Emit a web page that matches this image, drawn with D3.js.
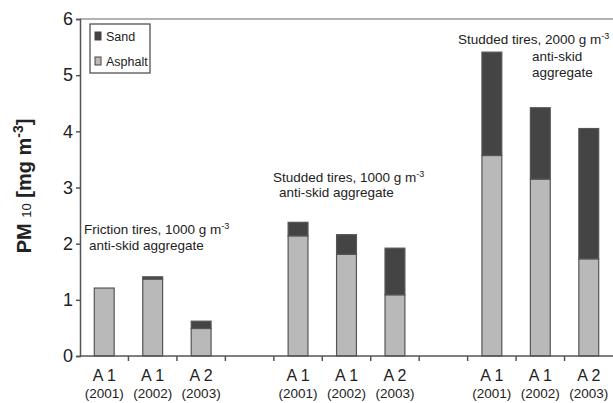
<!DOCTYPE html>
<html>
<head>
  <meta charset="utf-8">
  <title>PM10 sand / asphalt</title>
  <style>
    body { margin: 0; background: #fff; }
    text { font-family: "Liberation Sans", Arial, sans-serif; fill: #222; }
  </style>
</head>
<body>
  <script src="https://d3js.org/d3.v7.min.js"></script>
  <svg width="613" height="403"></svg>
  <script>
    // slots along the x axis, g1/g2 are the empty gaps between the groups
    var slots = ["s1", "s2", "s3", "g1", "s4", "s5", "s6", "g2", "s7", "s8", "s9"];
    var barSlots = ["s1", "s2", "s3", "s4", "s5", "s6", "s7", "s8", "s9"];
    var sites = ["A 1", "A 1", "A 2", "A 1", "A 1", "A 2", "A 1", "A 1", "A 2"];
    var years = ["(2001)", "(2002)", "(2003)", "(2001)", "(2002)", "(2003)", "(2001)", "(2002)", "(2003)"];
    var asphalt = [1.21, 1.37, 0.49, 2.14, 1.81, 1.09, 3.57, 3.15, 1.73];
    var sand = [0.0, 0.04, 0.13, 0.24, 0.35, 0.83, 1.84, 1.27, 2.32];
    var yTicks = [0, 1, 2, 3, 4, 5, 6];

    var svg = d3.select("svg");

    var x = d3.scaleBand()
        .domain(slots)
        .range([80, 613]);

    var y = d3.scaleLinear()
        .domain([0, 6])
        .range([356, 19]);

    var barW = x.bandwidth() * 0.41;

    // frame: top line
    svg.append("line")
        .attr("x1", 80).attr("x2", 613)
        .attr("y1", y(6)).attr("y2", y(6))
        .attr("stroke", "#999").attr("stroke-width", 1.5);

    // bars
    var bars = svg.append("g");
    barSlots.forEach(function(s, i) {
      var cx = x(s) + x.bandwidth() / 2;
      bars.append("rect")
          .attr("x", cx - barW / 2)
          .attr("width", barW)
          .attr("y", y(asphalt[i]))
          .attr("height", y(0) - y(asphalt[i]))
          .attr("fill", "#b9b9b9")
          .attr("stroke", "#555")
          .attr("stroke-width", 1.2);
      if (sand[i] > 0) {
        bars.append("rect")
            .attr("x", cx - barW / 2)
            .attr("width", barW)
            .attr("y", y(asphalt[i] + sand[i]))
            .attr("height", y(asphalt[i]) - y(asphalt[i] + sand[i]))
            .attr("fill", "#444")
            .attr("stroke", "#555")
            .attr("stroke-width", 1.2);
      }
    });

    // y axis
    var yAxis = svg.append("g")
        .attr("transform", "translate(80,0)")
        .call(d3.axisLeft(y).tickValues(yTicks).tickFormat(d3.format("d")).tickSize(4).tickPadding(3));
    yAxis.select(".domain").attr("stroke", "#555").attr("stroke-width", 1.5);
    yAxis.selectAll(".tick line").attr("stroke", "#555").attr("stroke-width", 1.5);
    yAxis.selectAll(".tick text")
        .style("font-family", "Liberation Sans, Arial, sans-serif")
        .style("font-size", "18px")
        .attr("fill", "#222");

    // x axis with ticks at slot boundaries
    var xAxis = svg.append("g");
    xAxis.append("line")
        .attr("x1", 80).attr("x2", 613)
        .attr("y1", y(0)).attr("y2", y(0))
        .attr("stroke", "#555").attr("stroke-width", 1.5);
    slots.forEach(function(s, i) {
      if (i === 0) return;
      xAxis.append("line")
          .attr("x1", x(s)).attr("x2", x(s))
          .attr("y1", y(0)).attr("y2", y(0) + 5)
          .attr("stroke", "#555").attr("stroke-width", 1.5);
    });

    barSlots.forEach(function(s, i) {
      var cx = x(s) + x.bandwidth() / 2;
      svg.append("text")
          .attr("x", cx).attr("y", 381)
          .attr("text-anchor", "middle")
          .style("font-size", "16px")
          .text(sites[i]);
      svg.append("text")
          .attr("x", cx).attr("y", 398)
          .attr("text-anchor", "middle")
          .style("font-size", "13.5px")
          .text(years[i]);
    });

    // y axis title
    var yt = svg.append("text")
        .attr("transform", "translate(31,186) rotate(-90)")
        .attr("text-anchor", "middle")
        .style("font-size", "20px")
        .style("font-weight", "bold");
    yt.append("tspan").text("PM ");
    yt.append("tspan").style("font-size", "13px").style("font-weight", "normal").text("10");
    yt.append("tspan").text(" [mg m");
    yt.append("tspan").attr("dy", -8).style("font-size", "14px").text("-3");
    yt.append("tspan").attr("dy", 8).text("]");

    // legend
    var lg = svg.append("g");
    lg.append("rect")
        .attr("x", 90).attr("y", 24).attr("width", 60).attr("height", 49)
        .attr("fill", "#fff").attr("stroke", "#444").attr("stroke-width", 1.2);
    [["Sand", "#444", 36], ["Asphalt", "#b9b9b9", 61]].forEach(function(d) {
      lg.append("rect")
          .attr("x", 95).attr("y", d[2] - 4).attr("width", 6).attr("height", 8)
          .attr("fill", d[1]).attr("stroke", "#444").attr("stroke-width", 1);
      lg.append("text")
          .attr("x", 106).attr("y", d[2] + 4.5)
          .style("font-size", "12.5px")
          .text(d[0]);
    });

    // group annotations
    function note(xp, yp, txt, sup) {
      var t = svg.append("text")
          .attr("x", xp).attr("y", yp)
          .style("font-size", "13.5px");
      t.append("tspan").text(txt);
      if (sup) t.append("tspan").attr("dy", -5).style("font-size", "9px").text(sup);
      return t;
    }
    note(84, 234, "Friction tires, 1000 g m", "-3");
    note(89, 250, "anti-skid aggregate");
    note(273, 182, "Studded tires, 1000 g m", "-3");
    note(279, 197, "anti-skid aggregate");
    note(458, 44, "Studded tires, 2000 g m", "-3");
    note(532, 61, "anti-skid");
    note(532, 77, "aggregate");
  </script>
</body>
</html>
